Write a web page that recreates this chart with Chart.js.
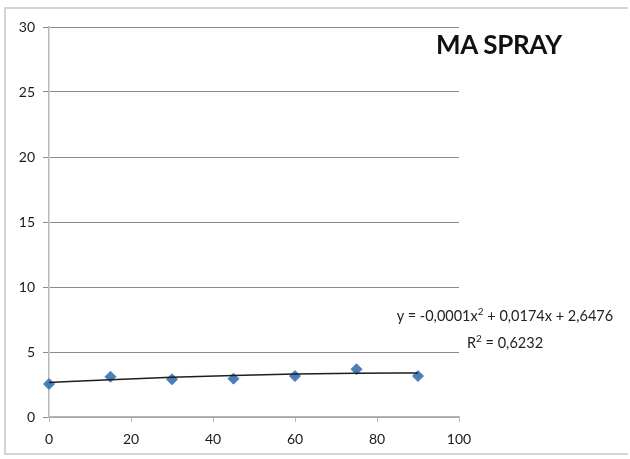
<!DOCTYPE html>
<html>
<head>
<meta charset="utf-8">
<script src="https://cdn.jsdelivr.net/npm/chart.js@4/dist/chart.umd.min.js"></script>
<style>
  html, body { margin: 0; padding: 0; background: #fff; }
  #wrap { position: relative; width: 630px; height: 459px; }
  #frame { position: absolute; left: 4px; top: 7px; width: 624px; height: 448px; border: 2px solid #d4d4d4; border-right: none; box-sizing: border-box; }
  .txt { position: absolute; font-family: Lato, 'Open Sans', sans-serif; color: #222; white-space: nowrap; }
  #title { left: 436px; top: 28px; font-size: 26px; font-weight: bold; color: #111; letter-spacing: -0.3px; }
  #eq { left: 383px; top: 300px; width: 244px; text-align: center; font-size: 14.5px; line-height: 22px; }
</style>
</head>
<body>
<div id="wrap">
  <div id="frame"></div>
  <canvas id="chart" width="630" height="459"></canvas>
  <div class="txt" id="title">MA SPRAY</div>
  <div class="txt" id="eq">y = -0,0001x<sup style="font-size:10px">2</sup> + 0,0174x + 2,6476<br>R<sup style="font-size:10px">2</sup> = 0,6232</div>
</div>
<script>
// measured points
const xValues = [0, 15, 30, 45, 60, 75, 90];
const yValues = [2.54, 3.1, 2.9, 2.95, 3.15, 3.67, 3.15];

// polynomial trendline
const trendX = [0, 15, 30, 45, 60, 75, 90];
const trendY = [2.65, 2.87, 3.06, 3.2, 3.31, 3.37, 3.39];

const xTicks = [0, 20, 40, 60, 80, 100];
const yTicks = [0, 5, 10, 15, 20, 25, 30];

const FONT = { family: "Lato, 'Open Sans', sans-serif", size: 14 };

new Chart(document.getElementById("chart"), {
  type: "scatter",
  data: {
    datasets: [
      {
        label: "Trend",
        type: "line",
        data: trendX.map((x, i) => ({ x: x, y: trendY[i] })),
        borderColor: "#1e1e1e",
        borderWidth: 1.5,
        pointRadius: 0,
        tension: 0.4,
        cubicInterpolationMode: "monotone",
        fill: false,
      },
      {
        label: "MA SPRAY",
        data: xValues.map((x, i) => ({ x: x, y: yValues[i] })),
        pointStyle: "rectRot",
        pointRadius: 5.5,
        backgroundColor: "#4a7ebb",
        borderColor: "#4a7ebb",
        borderWidth: 1,
        clip: false,
      }
    ]
  },
  options: {
    responsive: false,
    animation: false,
    layout: { padding: { left: 0, top: 27, right: 171, bottom: 0 } },
    plugins: { legend: { display: false }, tooltip: { enabled: false } },
    scales: {
      x: {
        type: "linear",
        min: 0, max: 100,
        afterBuildTicks: s => { s.ticks = xTicks.map(v => ({ value: v })); },
        afterFit: s => { s.height = 42; },
        grid: { drawOnChartArea: false, drawTicks: true, tickLength: 5, color: "#b8b8b8" },
        border: { color: "#b8b8b8", width: 1.5 },
        ticks: { color: "#1a1a1a", font: FONT, padding: 9 }
      },
      y: {
        min: 0, max: 30,
        afterBuildTicks: s => { s.ticks = yTicks.map(v => ({ value: v })); },
        afterFit: s => { s.width = 49; },
        grid: { color: "#8c8c8c", lineWidth: 1, tickLength: 6 },
        border: { color: "#b8b8b8", width: 1.5 },
        ticks: { color: "#1a1a1a", font: FONT, padding: 8 }
      }
    }
  }
});
</script>
</body>
</html>
